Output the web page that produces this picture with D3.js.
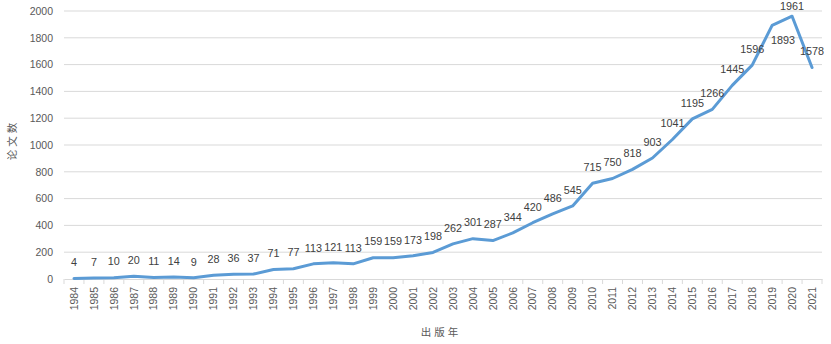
<!DOCTYPE html>
<html>
<head>
<meta charset="utf-8">
<script src="https://cdn.jsdelivr.net/npm/d3@7"></script>
<style>
  html, body { margin: 0; padding: 0; background: #fff; }
  svg { display: block; }
</style>
</head>
<body>
<svg id="chart" width="831" height="344"></svg>
<script>
// Publication counts per year
const years = ["1984","1985","1986","1987","1988","1989","1990","1991","1992","1993",
  "1994","1995","1996","1997","1998","1999","2000","2001","2002","2003",
  "2004","2005","2006","2007","2008","2009","2010","2011","2012","2013",
  "2014","2015","2016","2017","2018","2019","2020","2021"];
const counts = [4,7,10,20,11,14,9,28,36,37,
  71,77,113,121,113,159,159,173,198,262,
  301,287,344,420,486,545,715,750,818,903,
  1041,1195,1266,1445,1596,1893,1961,1578];
const yTicks = [0,200,400,600,800,1000,1200,1400,1600,1800,2000];
const xTitle = "出版年";
const yTitle = "论文数";
// labels drawn beneath (and right of) their point to avoid crowding
const labelsBelow = new Set(["2019"]);

const svg = d3.select("#chart");
const plotLeft = 64, plotRight = 822, plotTop = 11, plotBottom = 279;

const x = d3.scaleBand().domain(years).range([plotLeft, plotRight]);
const y = d3.scaleLinear().domain([0, 2000]).range([plotBottom, plotTop]);

const numFont = "'Liberation Sans', Arial, sans-serif";

// gridlines
svg.append("g").selectAll("line").data(yTicks.filter(d => d > 0)).join("line")
  .attr("x1", plotLeft).attr("x2", plotRight)
  .attr("y1", d => y(d)).attr("y2", d => y(d))
  .attr("stroke", "#d9d9d9").attr("stroke-width", 1);

// y axis labels
const yAxis = svg.append("g").attr("transform", `translate(${plotLeft},0)`)
  .call(d3.axisLeft(y).tickValues(yTicks).tickFormat(d3.format("d")).tickSize(0).tickPadding(11));
yAxis.select(".domain").remove();
yAxis.selectAll("text").attr("font-family", numFont).attr("font-size", 10.5).attr("fill", "#595959");

// x axis
const xAxis = svg.append("g").attr("transform", `translate(0,${plotBottom})`)
  .call(d3.axisBottom(x).tickSize(0));
xAxis.select(".domain").attr("stroke", "#d9d9d9");
xAxis.selectAll("text")
  .attr("font-family", numFont).attr("font-size", 10.5).attr("fill", "#595959")
  .attr("transform", "rotate(-90)")
  .attr("text-anchor", "end")
  .attr("x", -8).attr("y", 0).attr("dy", "0.35em");
// tick marks at band boundaries
svg.append("g").selectAll("line").data(years.concat(["end"])).join("line")
  .attr("x1", (d, i) => plotLeft + i * x.step()).attr("x2", (d, i) => plotLeft + i * x.step())
  .attr("y1", plotBottom).attr("y2", plotBottom + 5)
  .attr("stroke", "#d9d9d9");

// line series
const cx = d => x(d) + x.bandwidth() / 2;
svg.append("path")
  .datum(years.map((yr, i) => [yr, counts[i]]))
  .attr("fill", "none").attr("stroke", "#5b9bd5").attr("stroke-width", 3)
  .attr("stroke-linejoin", "round").attr("stroke-linecap", "round")
  .attr("d", d3.line().x(d => cx(d[0])).y(d => y(d[1])));

// value labels
svg.append("g").selectAll("text").data(years.map((yr, i) => [yr, counts[i]])).join("text")
  .attr("x", d => cx(d[0]) + (labelsBelow.has(d[0]) ? 11 : 0))
  .attr("y", d => labelsBelow.has(d[0]) ? y(d[1]) + 15 : Math.max(y(d[1]) - 16, 6))
  .attr("dy", "0.35em")
  .attr("text-anchor", "middle")
  .attr("font-family", numFont).attr("font-size", 10.8).attr("fill", "#404040")
  .text(d => d[1]);

// axis titles
svg.append("text").attr("x", 441).attr("y", 336)
  .attr("text-anchor", "middle")
  .attr("font-family", "'Noto Sans CJK SC', sans-serif").attr("font-size", 10.5)
  .attr("letter-spacing", 3).attr("fill", "#595959")
  .text(xTitle);
svg.append("text")
  .attr("transform", "translate(16,140) rotate(-90)")
  .attr("text-anchor", "middle")
  .attr("font-family", "'Noto Sans CJK SC', sans-serif").attr("font-size", 10.5)
  .attr("letter-spacing", 3).attr("fill", "#595959")
  .text(yTitle);
</script>
</body>
</html>
